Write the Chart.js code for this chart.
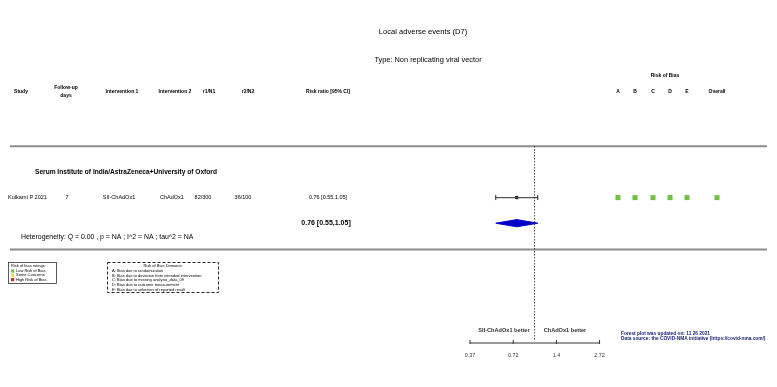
<!DOCTYPE html>
<html>
<head>
<meta charset="utf-8">
<script src="https://cdn.jsdelivr.net/npm/chart.js@4.4.0/dist/chart.umd.min.js"></script>
<style>
html,body{margin:0;padding:0;background:#fff;}
#wrap{width:777px;height:387px;position:relative;}
</style>
</head>
<body>
<div id="wrap"><canvas id="c" width="777" height="387"></canvas></div>
<script>
// ---- data ----
const chartTitle = "Local adverse events (D7)";
const chartType = "Type: Non replicating viral vector";
const groupName = "Serum Institute of India/AstraZeneca+University of Oxford";
const studies = ["Kulkarni P 2021"];
const followUp = ["7"];
const intervention1 = ["SII-ChAdOx1"];
const intervention2 = ["ChAdOx1"];
const r1n1 = ["82/300"];
const r2n2 = ["36/100"];
const rr = [0.76];
const rrLower = [0.55];
const rrUpper = [1.05];
const pooled = [0.76, 0.55, 1.05];
const heterogeneity = "Heterogeneity: Q = 0.00 , p = NA ; I^2 = NA ; tau^2 = NA";
const robDomains = ["A", "B", "C", "D", "E", "Overall"];
const robRatings = [["low", "low", "low", "low", "low", "low"]];
const axisTicks = [0.37, 0.72, 1.4, 2.72];
const favoursLeft = "SII-ChAdOx1 better";
const favoursRight = "ChAdOx1 better";
const robLegend = ["Low Risk of Bias", "Some Concerns", "High Risk of Bias"];
const domainLegend = [
  "A: Bias due to randomization",
  "B: Bias due to deviation from intended intervention",
  "C: Bias due to missing analysis_data_09",
  "D: Bias due to outcome measurement",
  "E: Bias due to selection of reported result"
];
const footnotes = ["Forest plot was updated on: 11 26 2021", "Data source: the COVID-NMA initiative (https://covid-nma.com/)"];

// ---- styles ----
const ROB_COLORS = {low: "#72bf44", some: "#f2e33a", high: "#c0392b"};
const F = "'Liberation Sans', Arial, sans-serif";

// study rows at y = 0..n-1, pooled at y = n
const ciData = [];
studies.forEach((s, i) => { ciData.push({x: rrLower[i], y: i}, {x: rrUpper[i], y: i}); });
const ptData = rr.map((v, i) => ({x: v, y: i}));
const pRow = studies.length;
const diamond = [
  {x: pooled[1], y: pRow}, {x: pooled[0], y: pRow - 0.14},
  {x: pooled[2], y: pRow}, {x: pooled[0], y: pRow + 0.14}, {x: pooled[1], y: pRow}
];

const textPlugin = {
  id: "forestText",
  afterDatasetsDraw(chart) {
    const ctx = chart.ctx;
    const xs = chart.scales.x, ys = chart.scales.y;
    const t = (s, x, y, size, opt = {}) => {
      ctx.save();
      ctx.font = (opt.bold ? "bold " : "") + size + "px " + F;
      ctx.fillStyle = opt.color || "#000";
      ctx.textAlign = opt.align || "center";
      ctx.textBaseline = "middle";
      ctx.fillText(s, x, y);
      ctx.restore();
    };
    // titles
    t(chartTitle, 423, 32, 7.6);
    t(chartType, 428, 60, 7.4);
    // header
    const hy = 92;
    t("Study", 21, hy, 5, {bold: true});
    t("Follow-up", 66, 88, 5, {bold: true});
    t("days", 66, 96, 5, {bold: true});
    t("Intervention 1", 122, hy, 5, {bold: true});
    t("Intervention 2", 175, hy, 5, {bold: true});
    t("r1/N1", 209, hy, 5, {bold: true});
    t("r2/N2", 248, hy, 5, {bold: true});
    t("Risk ratio [95% CI]", 328, hy, 5, {bold: true});
    t("Risk of Bias", 665, 76, 5, {bold: true});
    const robX = [618, 635, 653, 670, 687, 717];
    robDomains.forEach((d, i) => t(d, robX[i], hy, 5, {bold: true}));
    // separator lines
    ctx.save();
    ctx.strokeStyle = "#8c8c8c";
    ctx.lineWidth = 2;
    const topLineY = ys.getPixelForValue(-2);
    const botLineY = ys.getPixelForValue(pRow + 1.03);
    ctx.beginPath(); ctx.moveTo(10, topLineY); ctx.lineTo(767, topLineY); ctx.stroke();
    ctx.beginPath(); ctx.moveTo(10, botLineY); ctx.lineTo(767, botLineY); ctx.stroke();
    ctx.restore();
    // group name
    t(groupName, 35, ys.getPixelForValue(-1), 6.6, {bold: true, align: "left"});
    // study rows
    studies.forEach((s, i) => {
      const y = ys.getPixelForValue(i);
      t(s, 8, y, 5.5, {align: "left"});
      t(followUp[i], 67, y, 5.5);
      t(intervention1[i], 119, y, 5.5);
      t(intervention2[i], 172, y, 5.5);
      t(r1n1[i], 203, y, 5.5);
      t(r2n2[i], 243, y, 5.5);
      t(rr[i].toFixed(2) + " [" + rrLower[i].toFixed(2) + "," + rrUpper[i].toFixed(2) + "]", 328, y, 5.5);
      robRatings[i].forEach((r, j) => {
        ctx.fillStyle = ROB_COLORS[r];
        ctx.fillRect(robX[j] - 2.5, y - 2.5, 5, 5);
      });
    });
    // pooled
    const py = ys.getPixelForValue(pRow);
    t(pooled[0].toFixed(2) + " [" + pooled[1].toFixed(2) + "," + pooled[2].toFixed(2) + "]", 326, py, 7, {bold: true});
    t(heterogeneity, 21, ys.getPixelForValue(pRow + 0.55), 6.9, {align: "left"});
    // reference line at 1
    const x1 = xs.getPixelForValue(1);
    ctx.save();
    ctx.strokeStyle = "#222";
    ctx.lineWidth = 0.8;
    ctx.setLineDash([1.5, 1.5]);
    ctx.beginPath(); ctx.moveTo(x1, 146); ctx.lineTo(x1, 340); ctx.stroke();
    ctx.restore();
    // axis
    const ay = 343;
    const xa = xs.getPixelForValue(axisTicks[0]);
    const xb = xs.getPixelForValue(axisTicks[axisTicks.length - 1]);
    ctx.save();
    ctx.strokeStyle = "#333";
    ctx.lineWidth = 1;
    ctx.beginPath(); ctx.moveTo(xa, ay); ctx.lineTo(xb, ay); ctx.stroke();
    axisTicks.forEach(v => {
      const px = xs.getPixelForValue(v);
      ctx.beginPath(); ctx.moveTo(px, ay - 3); ctx.lineTo(px, ay + 1); ctx.stroke();
      t(String(v), px, 355.5, 5.4, {color: "#333"});
    });
    ctx.restore();
    t(favoursLeft, 504, 330, 5.6, {bold: true, color: "#333"});
    t(favoursRight, 565, 330, 5.6, {bold: true, color: "#333"});
    // footnotes
    t(footnotes[0], 621, 334, 4.8, {bold: true, align: "left", color: "#1a237e"});
    t(footnotes[1], 621, 339, 4.8, {bold: true, align: "left", color: "#1a237e"});
    // legend box 1
    ctx.save();
    ctx.strokeStyle = "#333"; ctx.lineWidth = 0.8;
    ctx.strokeRect(8.5, 262.5, 48, 21);
    ctx.restore();
    t("Risk of bias ratings:", 11, 266, 4, {align: "left"});
    const lc = [ROB_COLORS.low, ROB_COLORS.some, ROB_COLORS.high];
    robLegend.forEach((l, i) => {
      const yy = 271 + i * 4.3;
      ctx.fillStyle = lc[i];
      ctx.fillRect(11, yy - 1.6, 3.2, 3.2);
      t(l, 16, yy, 4, {align: "left"});
    });
    // legend box 2 dashed
    ctx.save();
    ctx.strokeStyle = "#222"; ctx.lineWidth = 1;
    ctx.setLineDash([3, 2]);
    ctx.strokeRect(107.5, 262.5, 111, 30);
    ctx.restore();
    t("Risk of Bias Domains:", 163, 266, 4, {});
    domainLegend.forEach((l, i) => t(l, 112, 271 + i * 4.6, 4, {align: "left"}));
  }
};

new Chart(document.getElementById("c"), {
  type: "scatter",
  data: {
    datasets: [
      {
        type: "line", data: ciData, borderColor: "#555", borderWidth: 1.2,
        pointStyle: "line", pointRadius: 2.5, pointRotation: 90,
        pointBorderColor: "#222", pointBorderWidth: 1, showLine: true
      },
      {
        data: ptData, pointStyle: "rect", pointRadius: 1.6,
        backgroundColor: "#000", borderColor: "#000"
      },
      {
        type: "line", data: diamond, borderColor: "#0000c8", borderWidth: 1,
        backgroundColor: "#0000c8", fill: "shape", pointRadius: 0, tension: 0, showLine: true
      }
    ]
  },
  options: {
    responsive: false,
    animation: false,
    events: [],
    layout: {padding: 0},
    plugins: {legend: {display: false}, tooltip: {enabled: false}},
    scales: {
      x: {type: "logarithmic", min: 0.000288, max: 38.67, display: false},
      y: {type: "linear", reverse: true, min: -7.517, max: 7.198, display: false}
    }
  },
  plugins: [textPlugin]
});
</script>
</body>
</html>
